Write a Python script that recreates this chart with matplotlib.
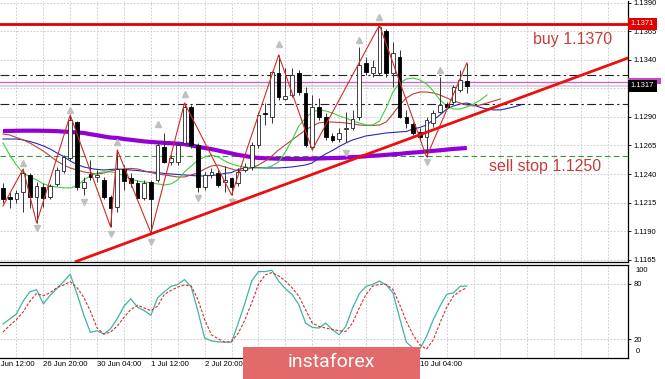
import matplotlib
matplotlib.use('Agg')
import matplotlib.pyplot as plt
import matplotlib.transforms as mtransforms
from matplotlib.patches import Rectangle
import numpy as np

plt.rcParams['font.family'] = ['Liberation Sans', 'DejaVu Sans']

# H4 candles, 25 Jun 20:00 .. 13 Jul
opens = [1.12278, 1.12199, 1.12181, 1.12242, 1.12392, 1.12199, 1.12286, 1.12199, 1.12313, 1.12427,
         1.12541, 1.12856, 1.12278, 1.12400, 1.12374, 1.12348, 1.12199, 1.12111, 1.12444, 1.12365,
         1.12321, 1.12190, 1.12330, 1.12348, 1.12637, 1.12506, 1.12506, 1.12672, 1.12988, 1.12655,
         1.12286, 1.12392, 1.12409, 1.12330, 1.12365, 1.12321, 1.12435, 1.12462, 1.12655, 1.12935,
         1.12900, 1.13286, 1.13058, 1.13093, 1.13286, 1.13111, 1.12637, 1.12988, 1.12900, 1.12734,
         1.12707, 1.12795, 1.12804, 1.12900, 1.13374, 1.13286, 1.13286, 1.13654, 1.13286, 1.13426,
         1.12900, 1.12839, 1.12769, 1.12725, 1.12848, 1.12944, 1.13014, 1.13032, 1.13137, 1.13216]
highs = [1.12321, 1.12242, 1.12260, 1.12444, 1.12409, 1.12330, 1.12321, 1.12313, 1.12462, 1.12567,
         1.12918, 1.12865, 1.12374, 1.12523, 1.12435, 1.12374, 1.12216, 1.12611, 1.12480, 1.12409,
         1.12348, 1.12348, 1.12348, 1.12681, 1.12760, 1.12567, 1.12681, 1.13023, 1.13005, 1.12672,
         1.12418, 1.12453, 1.12435, 1.12470, 1.12374, 1.12453, 1.12497, 1.12681, 1.12944, 1.13023,
         1.13304, 1.13444, 1.13330, 1.13330, 1.13312, 1.13163, 1.13093, 1.13067, 1.12935, 1.12760,
         1.12804, 1.12944, 1.12962, 1.13514, 1.13426, 1.13400, 1.13707, 1.13672, 1.13558, 1.13488,
         1.12962, 1.12856, 1.12804, 1.12900, 1.12962, 1.13251, 1.13032, 1.13181, 1.13312, 1.13374]
lows = [1.12146, 1.12102, 1.12146, 1.12067, 1.12102, 1.11971, 1.12111, 1.12181, 1.12295, 1.12409,
        1.12523, 1.12260, 1.12216, 1.12348, 1.12330, 1.12181, 1.11936, 1.12067, 1.12260, 1.12286,
        1.12181, 1.12170, 1.11883, 1.12330, 1.12497, 1.12480, 1.12480, 1.12655, 1.12628, 1.12242,
        1.12260, 1.12365, 1.12286, 1.12242, 1.12216, 1.12295, 1.12418, 1.12435, 1.12628, 1.12830,
        1.12848, 1.13049, 1.13049, 1.13076, 1.13093, 1.12637, 1.12611, 1.12874, 1.12699, 1.12681,
        1.12681, 1.12681, 1.12786, 1.12874, 1.13269, 1.13251, 1.13269, 1.13251, 1.13163, 1.12891,
        1.12804, 1.12742, 1.12699, 1.12549, 1.12813, 1.12935, 1.12970, 1.13014, 1.13120, 1.13111]
closes = [1.12181, 1.12181, 1.12234, 1.12409, 1.12199, 1.12295, 1.12190, 1.12295, 1.12435, 1.12549,
          1.12874, 1.12286, 1.12330, 1.12374, 1.12392, 1.12199, 1.12102, 1.12444, 1.12339, 1.12321,
          1.12190, 1.12321, 1.12181, 1.12655, 1.12506, 1.12541, 1.12655, 1.12988, 1.12655, 1.12286,
          1.12392, 1.12418, 1.12304, 1.12348, 1.12286, 1.12418, 1.12462, 1.12655, 1.12918, 1.12926,
          1.13295, 1.13076, 1.13084, 1.13269, 1.13120, 1.12655, 1.12988, 1.12900, 1.12725, 1.12699,
          1.12760, 1.12804, 1.12883, 1.13356, 1.13295, 1.13339, 1.13690, 1.13286, 1.13462, 1.12900,
          1.12848, 1.12760, 1.12725, 1.12874, 1.12935, 1.13005, 1.12988, 1.13163, 1.13225, 1.13172]

# Alligator: jaw / teeth / lips run past the last bar
jaw = [1.12707, 1.12707, 1.12707, 1.12699, 1.12685, 1.12668, 1.12646, 1.12620, 1.12585, 1.12554,
       1.12514, 1.12484, 1.12462, 1.12449, 1.12440, 1.12435, 1.12440, 1.12444, 1.12440, 1.12435,
       1.12431, 1.12422, 1.12418, 1.12413, 1.12405, 1.12400, 1.12396, 1.12392, 1.12387, 1.12383,
       1.12383, 1.12387, 1.12392, 1.12405, 1.12413, 1.12440, 1.12453, 1.12457, 1.12457, 1.12453,
       1.12453, 1.12453, 1.12457, 1.12462, 1.12470, 1.12479, 1.12497, 1.12541, 1.12576, 1.12606,
       1.12641, 1.12672, 1.12699, 1.12716, 1.12734, 1.12742, 1.12751, 1.12760, 1.12764, 1.12769,
       1.12773, 1.12795, 1.12808, 1.12830, 1.12874, 1.12918, 1.12970, 1.12997, 1.13014, 1.13023,
       1.13005, 1.12984, 1.12970, 1.12962, 1.12962, 1.12975, 1.12988, 1.13005]
teeth = [1.12751, 1.12742, 1.12720, 1.12699, 1.12672, 1.12637, 1.12602, 1.12558, 1.12514, 1.12479,
         1.12453, 1.12435, 1.12418, 1.12409, 1.12400, 1.12409, 1.12427, 1.12435, 1.12444, 1.12449,
         1.12444, 1.12427, 1.12413, 1.12400, 1.12392, 1.12383, 1.12374, 1.12374, 1.12392, 1.12409,
         1.12444, 1.12470, 1.12479, 1.12462, 1.12444, 1.12427, 1.12435, 1.12453, 1.12479, 1.12514,
         1.12558, 1.12611, 1.12655, 1.12699, 1.12742, 1.12786, 1.12821, 1.12848, 1.12856, 1.12856,
         1.12852, 1.12848, 1.12839, 1.12830, 1.12826, 1.12826, 1.12830, 1.12856, 1.12927, 1.13005,
         1.13067, 1.13102, 1.13119, 1.13119, 1.13111, 1.13093, 1.13067, 1.13041, 1.13023, 1.13005,
         1.12997, 1.13005, 1.13023, 1.13041, 1.13058]
lips = [1.12672, 1.12567, 1.12479, 1.12409, 1.12374, 1.12348, 1.12313, 1.12295, 1.12286, 1.12278,
        1.12278, 1.12295, 1.12348, 1.12383, 1.12409, 1.12418, 1.12418, 1.12409, 1.12383, 1.12356,
        1.12339, 1.12330, 1.12321, 1.12313, 1.12304, 1.12313, 1.12348, 1.12418, 1.12470, 1.12523,
        1.12549, 1.12567, 1.12549, 1.12514, 1.12488, 1.12470, 1.12462, 1.12453, 1.12453, 1.12453,
        1.12470, 1.12506, 1.12593, 1.12699, 1.12821, 1.12891, 1.12944, 1.12962, 1.12953, 1.12935,
        1.12909, 1.12891, 1.12865, 1.12848, 1.12830, 1.12830, 1.12865, 1.12979, 1.13119, 1.13198,
        1.13233, 1.13242, 1.13225, 1.13190, 1.13128, 1.13049, 1.12997, 1.12970, 1.12970, 1.12988,
        1.13014, 1.13049, 1.13093]
# long moving average (thick purple)
ma_long = [1.12777, 1.12778, 1.12779, 1.12780, 1.12780, 1.12780, 1.12779, 1.12778, 1.12776, 1.12772,
           1.12769, 1.12764, 1.12760, 1.12749, 1.12740, 1.12729, 1.12720, 1.12716, 1.12707, 1.12700,
           1.12693, 1.12686, 1.12681, 1.12677, 1.12673, 1.12670, 1.12666, 1.12662, 1.12651, 1.12639,
           1.12628, 1.12618, 1.12606, 1.12593, 1.12580, 1.12567, 1.12558, 1.12547, 1.12541, 1.12538,
           1.12536, 1.12534, 1.12533, 1.12532, 1.12532, 1.12533, 1.12534, 1.12536, 1.12538, 1.12540,
           1.12541, 1.12544, 1.12548, 1.12551, 1.12556, 1.12560, 1.12563, 1.12568, 1.12573, 1.12577,
           1.12583, 1.12588, 1.12592, 1.12598, 1.12603, 1.12608, 1.12614, 1.12620, 1.12624, 1.12628]

# zigzag and fractals
zz_idx = [0, 3, 5, 10, 16, 17, 22, 27, 34, 41, 46, 56, 63, 69]
zz_price = [1.12120, 1.12444, 1.11971, 1.12918, 1.11936, 1.12611, 1.11883, 1.13023,
            1.12216, 1.13444, 1.12611, 1.13707, 1.12549, 1.13374]
frac_up_idx = [3, 10, 17, 23, 27, 41, 53, 56, 65]
frac_up_price = [1.12497, 1.12962, 1.12681, 1.12839, 1.13102, 1.13540, 1.13576, 1.13777, 1.13312]
frac_dn_idx = [5, 12, 16, 22, 29, 34, 51, 63]
frac_dn_price = [1.11927, 1.12155, 1.11874, 1.11804, 1.12190, 1.12155, 1.12585, 1.12506]

# stochastic
stoch_main = [36.2, 41.6, 47.1, 60.9, 71.1, 73.3, 58.0, 67.1, 74.4, 82.0,
              90.0, 68.9, 46.4, 27.1, 28.9, 25.3, 31.1, 42.0, 55.5, 63.5,
              54.4, 50.7, 45.6, 64.5, 71.1, 76.9, 79.1, 84.2, 76.2, 50.0,
              20.9, 18.0, 16.9, 16.6, 16.6, 37.3, 59.1, 82.7, 92.9, 92.9,
              94.4, 82.7, 74.4, 68.2, 57.3, 37.3, 32.6, 31.8, 37.3, 30.0,
              24.6, 33.7, 53.6, 68.9, 76.9, 79.1, 82.7, 78.4, 70.0, 42.7,
              16.6, 10.0, 9.3, 22.7, 40.9, 55.5, 68.2, 70.0, 76.9, 77.3]
stoch_signal = [27.5, 34.7, 40.9, 49.3, 60.9, 69.3, 66.7, 70.0, 75.5, 78.4,
                82.0, 75.5, 65.3, 50.0, 31.8, 25.3, 27.5, 34.0, 43.5, 51.8,
                56.5, 53.6, 50.7, 55.5, 68.2, 72.5, 76.2, 78.4, 77.3, 62.7,
                40.9, 24.6, 20.2, 16.6, 17.3, 26.4, 40.9, 59.1, 79.1, 89.3,
                91.8, 88.2, 82.7, 75.5, 66.4, 51.8, 37.3, 33.7, 31.8, 30.4,
                28.9, 28.2, 37.3, 53.6, 68.2, 77.3, 79.1, 79.1, 73.6, 57.3,
                39.1, 24.6, 13.7, 9.0, 19.1, 37.3, 54.4, 66.4, 71.8, 75.5]

# levels and trend line
level_buy = 1.13716
level_pink = 1.13203
level_last = 1.13172
level_dd_hi = 1.13268
level_dd_lo = 1.13014
level_sell = 1.12558
trend_idx = [10.7, 93.0]
trend_price = [1.11629, 1.13418]

price_ticks = [1.1165, 1.1190, 1.1215, 1.1240, 1.1265, 1.1290, 1.1315, 1.1340, 1.1365, 1.1390]
price_labels = ['1.1165', '1.1190', '1.1215', '1.1240', '1.1265', '1.1290', '', '1.1340', '1.1365', '1.1390']
# time labels that are not hidden by the watermark box
time_idx = [-2, 6, 14, 22, 30, 62]
time_labels = ['25 Jun 12:00', '26 Jun 20:00', '30 Jun 04:00', '1 Jul 12:00', '2 Jul 20:00', '10 Jul 04:00']

o = np.array(opens)
h = np.array(highs)
l = np.array(lows)
c = np.array(closes)
idx = np.arange(len(o))

fig = plt.figure(figsize=(6.65, 3.79), dpi=100)
ax = fig.add_axes([0, 117 / 379, 628 / 665, 261 / 379])
ax2 = fig.add_axes([0, 21.5 / 379, 628 / 665, 92.5 / 379])

xmin, xmax = -0.446, 92.97
grid_idx = np.arange(2, 92, 4)
grid_kw = dict(color='#c4c4c4', linestyle=(0, (2, 2)), linewidth=0.6)

# ---- main panel ----
ax.set_xlim(xmin, xmax)
ax.set_ylim(1.116281, 1.139175)
ax.set_xticks(grid_idx)
ax.set_yticks(price_ticks)
ax.set_yticklabels(price_labels)
ax.yaxis.tick_right()
ax.tick_params(axis='y', labelsize=5.5, length=2, pad=2, width=0.6)
ax.tick_params(axis='x', length=0, labelbottom=False)
ax.grid(True, **grid_kw)
ax.set_axisbelow(True)
for s in ['left', 'top']:
    ax.spines[s].set_visible(False)
ax.spines['right'].set_linewidth(0.9)
ax.spines['bottom'].set_linewidth(0.9)

# horizontal levels
ax.axhline(level_buy, color='#e00000', lw=2, zorder=3)
ax.axhline(level_pink, color='#cc66cc', lw=1, zorder=3)
ax.axhline(level_last, color='#d8d8d8', lw=1.5, zorder=2)
ax.axhline(level_dd_hi, color='#222222', lw=0.8, linestyle=(0, (8, 3, 2, 3)), zorder=3)
ax.axhline(level_dd_lo, color='#222222', lw=0.8, linestyle=(0, (8, 3, 2, 3)), zorder=3)
ax.axhline(level_sell, color='#2e9e2e', lw=0.8, linestyle=(0, (5, 3)), zorder=3)

# moving averages
ax.plot(np.arange(len(ma_long)), ma_long, color='#9400d3', lw=3, zorder=4, solid_capstyle='butt')
ax.plot(np.arange(len(jaw)), jaw, color='#2a2ab0', lw=0.8, zorder=4)
ax.plot(np.arange(len(teeth)), teeth, color='#b84040', lw=0.8, zorder=4)
ax.plot(np.arange(len(lips)), lips, color='#3dd03d', lw=0.8, zorder=4)

# candles
ax.vlines(idx, l, h, color='#333333', lw=0.7, zorder=5)
up = c >= o
body_lo = np.minimum(o, c)
body_h = np.maximum(np.abs(c - o), 0.00002)
ax.bar(idx[up], body_h[up], bottom=body_lo[up], width=0.55, color='white',
       edgecolor='#222222', linewidth=0.6, zorder=6)
ax.bar(idx[~up], body_h[~up], bottom=body_lo[~up], width=0.55, color='black',
       edgecolor='black', linewidth=0.6, zorder=6)

# zigzag and fractals
ax.plot(zz_idx, zz_price, color='#d42a2a', lw=0.8, zorder=7)
ax.plot(frac_up_idx, frac_up_price, linestyle='none', marker='^', ms=5, color='#c0c0c0', zorder=7)
ax.plot(frac_dn_idx, frac_dn_price, linestyle='none', marker='v', ms=5, color='#c0c0c0', zorder=7)

# trend line
ax.plot(trend_idx, trend_price, color='#e81010', lw=2, zorder=8, solid_capstyle='butt')

# annotations
ax.text(84.7, 1.13576, 'buy 1.1370', color='#c43c3c', fontsize=11.5, ha='center', va='center', zorder=9)
ax.text(80.7, 1.12462, 'sell stop 1.1250', color='#c43c3c', fontsize=11.5, ha='center', va='center', zorder=9)

# price boxes on the scale
tr = mtransforms.blended_transform_factory(ax.transAxes, ax.transData)
ax.text(1.004, level_buy, '1.1371', transform=tr, fontsize=5.5, color='white', va='center', ha='left',
        bbox=dict(boxstyle='square,pad=0.35', fc='#e00000', ec='none'), clip_on=False, zorder=10)
ax.add_patch(Rectangle((1.0, level_pink - 0.00010), 0.053, 0.00045, transform=tr, fc='#cc44cc',
                       ec='none', clip_on=False, zorder=10))
ax.text(1.004, level_last, '1.1317', transform=tr, fontsize=5.5, color='white', va='center', ha='left',
        bbox=dict(boxstyle='square,pad=0.35', fc='black', ec='none'), clip_on=False, zorder=11)

# ---- stochastic panel ----
ax2.set_xlim(xmin, xmax)
ax2.set_ylim(0, 100)
ax2.set_xticks(grid_idx)
ax2.set_yticks([80, 20])
ax2.yaxis.tick_right()
ax2.tick_params(axis='y', labelsize=5.5, length=2, pad=2, width=0.6)
ax2.tick_params(axis='x', length=0, labelbottom=False)
ax2.grid(True, **grid_kw)
ax2.set_axisbelow(True)
ax2.spines['left'].set_visible(False)
for s in ['right', 'top', 'bottom']:
    ax2.spines[s].set_linewidth(0.9)
tr2 = mtransforms.blended_transform_factory(ax2.transAxes, ax2.transData)
ax2.text(1.012, 94, '100', transform=tr2, fontsize=5.5, va='center', ha='left', clip_on=False)
ax2.text(1.012, 6, '0', transform=tr2, fontsize=5.5, va='center', ha='left', clip_on=False)

ax2.plot(np.arange(len(stoch_main)), stoch_main, color='#40b4a4', lw=0.9, zorder=3)
ax2.plot(np.arange(len(stoch_signal)), stoch_signal, color='#d03030', lw=0.8,
         linestyle=(0, (2.5, 1.5)), zorder=3)

tr3 = mtransforms.blended_transform_factory(ax2.transData, ax2.transAxes)
for i, lab in zip(time_idx, time_labels):
    ax2.text(i, -0.035, lab, transform=tr3, fontsize=5.6, ha='left', va='top', clip_on=False)

# watermark box
fig.add_artist(Rectangle((243 / 665, 0), 177 / 665, 32 / 379, transform=fig.transFigure,
                         fc='#e26a6a', ec='none', zorder=20))
fig.text(331 / 665, 17 / 379, 'instaforex', color='white', fontsize=14, ha='center', va='center',
         family=['Roboto', 'DejaVu Sans'], zorder=21)

fig.savefig('out.png', dpi=100)
